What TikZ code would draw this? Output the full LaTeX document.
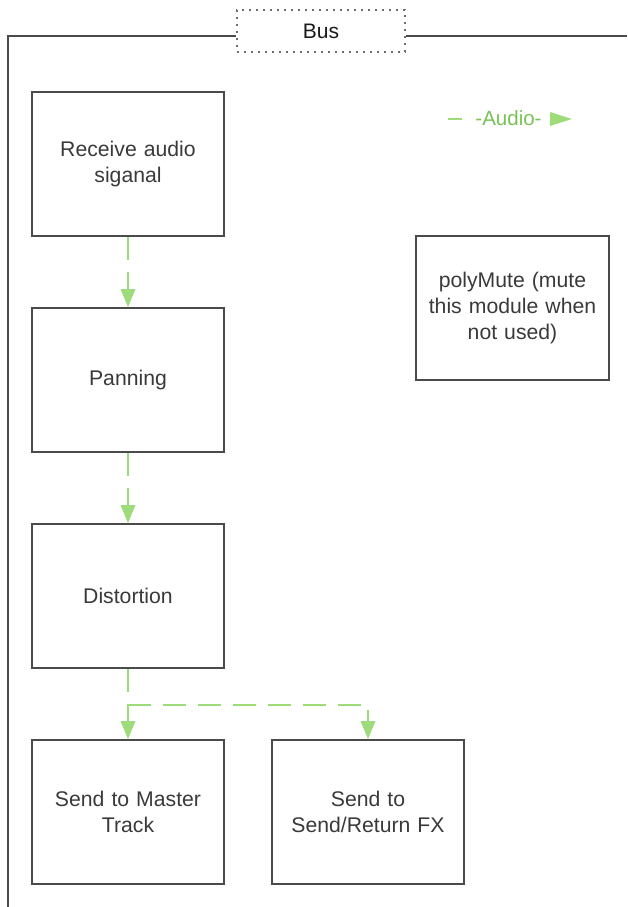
\documentclass[tikz,border=0pt]{standalone}
\usepackage{fontspec}
\setmainfont{Liberation Sans}
\usetikzlibrary{arrows.meta}
\definecolor{boxline}{HTML}{4A4A4A}
\definecolor{boxtext}{HTML}{3A3A3A}
\definecolor{audioline}{HTML}{9EDC7A}
\definecolor{audiotext}{HTML}{78C255}
\tikzset{
  procbox/.style={draw=boxline, line width=2pt, fill=white, minimum width=192pt, minimum height=144pt, inner sep=0pt, align=center, text=boxtext, font=\fontsize{21.2}{26}\selectfont, text width=186pt},
  audio/.style={draw=audioline, line width=2.5pt, dash pattern=on 23pt off 12pt, -{Triangle[length=18pt,width=15pt,fill=audioline,line width=0pt]}},
  frameline/.style={draw=boxline, line width=2pt},
}
\begin{document}
\begin{tikzpicture}[x=1pt,y=-1pt]
\useasboundingbox (0,0) rectangle (627,907);
% frame
\node[draw=boxline!80, line width=1.6pt, dash pattern=on 1.6pt off 5.4pt, minimum width=168pt, minimum height=42pt, inner sep=0pt, font=\fontsize{21}{24}\selectfont, text=black!90] (bus) at (321,31) {Bus};
\coordinate (fl) at (8,36);
\coordinate (fb) at (8,907);
\coordinate (fr) at (627,36);
\draw[frameline] (bus.west |- fl) -- (fl) -- (fb);
\draw[frameline] (bus.east |- fl) -- (fr);
% boxes
\node[procbox] (recv) at (128,164) {Receive audio\\siganal};
\node[procbox] (pan) at (128,380) {Panning};
\node[procbox] (dist) at (128,596) {Distortion};
\node[procbox] (master) at (128,812) {Send to Master\\Track};
\node[procbox] (fx) at (368,812) {Send to\\Send/Return FX};
\node[procbox, minimum width=193pt] (poly) at (512.5,308) {polyMute (mute\\this module when\\not used)};
% connectors
\draw[audio] (recv.south) -- (pan.north);
\draw[audio] (pan.south) -- (dist.north);
\draw[audio] (dist.south) -- (master.north);
\coordinate (br) at (128,705);
\draw[audio] (br) -| (fx.north);
% legend
\node[text=audiotext, font=\fontsize{20.5}{24}\selectfont, inner sep=0pt] (leg) at (508.5,118) {-Audio-};
\coordinate (l1) at (448,119);
\coordinate (l2) at (462,119);
\draw[draw=audioline, line width=2.5pt] (l1) -- (l2);
\coordinate (t1) at (550,119);
\coordinate (t2) at (572,119);
\draw[draw=audioline, line width=0pt, -{Triangle[length=22pt,width=14pt,fill=audioline]}] (t1) -- (t2);
\end{tikzpicture}
\end{document}
